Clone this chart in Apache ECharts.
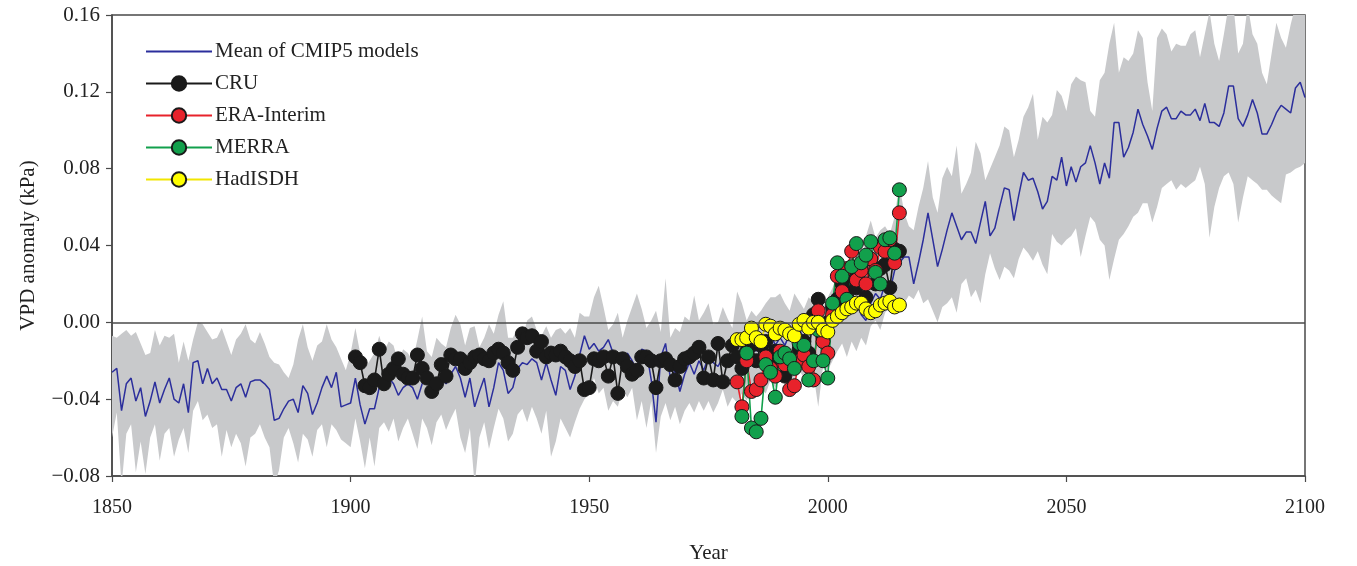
<!DOCTYPE html>
<html><head><meta charset="utf-8">
<script src="https://cdn.jsdelivr.net/npm/echarts@6/dist/echarts.min.js"></script>
<style>html,body{margin:0;padding:0;background:#fff}#c{width:1357px;height:566px}</style>
</head><body><div id="c"></div>
<script>
const startYear = 1850;
const cmipMean = [
-0.026,-0.024,-0.046,-0.032,-0.029,-0.041,-0.034,-0.049,-0.041,-0.031,
-0.042,-0.035,-0.029,-0.040,-0.042,-0.032,-0.047,-0.021,-0.020,-0.032,
-0.024,-0.032,-0.029,-0.035,-0.035,-0.041,-0.034,-0.032,-0.039,-0.031,
-0.030,-0.030,-0.032,-0.035,-0.051,-0.050,-0.045,-0.041,-0.040,-0.047,
-0.033,-0.037,-0.048,-0.042,-0.034,-0.028,-0.034,-0.026,-0.044,-0.043,
-0.042,
-0.029,-0.043,-0.053,-0.045,-0.045,-0.034,-0.030,-0.029,-0.032,-0.038,
-0.034,-0.032,-0.034,-0.040,-0.032,-0.029,-0.033,-0.030,-0.029,-0.032,
-0.027,-0.023,-0.029,-0.039,-0.029,-0.044,-0.036,-0.029,-0.044,-0.034,
-0.021,-0.025,-0.037,-0.034,-0.024,-0.021,-0.022,-0.019,-0.021,-0.030,
-0.021,-0.030,-0.038,-0.023,-0.025,-0.035,-0.028,-0.017,-0.007,-0.014,
-0.011,-0.015,-0.013,-0.009,-0.016,-0.017,-0.020,-0.016,-0.020,-0.025,
-0.014,-0.015,-0.030,-0.052,-0.018,-0.011,-0.029,-0.025,-0.036,-0.027,
-0.021,-0.027,-0.020,-0.025,-0.018,-0.021,-0.023,-0.018,-0.020,-0.018,
-0.021,-0.016,-0.019,-0.012,-0.015,-0.010,-0.013,-0.006,-0.012,-0.008,
-0.012,-0.006,-0.009,-0.004,-0.008,-0.003,-0.006,0.000,-0.004,0.003,
0.006,0.004,0.012,0.008,0.014,0.010,0.004,0.001,0.010,0.015,
0.012,0.020,0.016,0.027,0.031,0.034,0.034,0.020,0.031,0.043,
0.057,0.043,0.029,0.038,0.048,0.057,0.050,0.043,0.047,0.047,
0.041,0.052,0.063,0.045,0.049,0.060,0.070,0.069,0.053,0.066,
0.078,0.074,0.075,0.068,0.059,0.063,0.076,0.074,0.086,0.071,
0.081,0.073,0.081,0.083,0.092,0.083,0.072,0.083,0.075,0.104,
0.104,0.086,0.091,0.099,0.111,0.103,0.097,0.090,0.101,0.110,
0.112,0.106,0.106,0.110,0.108,0.108,0.111,0.105,0.114,0.104,
0.104,0.102,0.109,0.123,0.123,0.106,0.102,0.108,0.116,0.109,
0.098,0.098,0.103,0.109,0.113,0.111,0.109,0.122,0.125,0.117
];
const bandUpper = [
-0.007,-0.008,-0.006,-0.004,-0.007,-0.005,-0.011,-0.017,-0.016,-0.004,
-0.012,-0.007,-0.008,-0.006,-0.021,-0.010,-0.020,-0.009,0.000,-0.001,
-0.005,-0.009,-0.008,-0.003,-0.010,-0.017,-0.009,-0.006,-0.001,-0.009,
-0.011,-0.005,-0.011,-0.018,-0.021,-0.022,-0.026,-0.029,-0.022,-0.009,
-0.001,-0.013,-0.020,-0.012,-0.010,-0.001,-0.009,-0.013,-0.019,-0.025,
-0.016,
-0.003,-0.016,-0.024,-0.020,-0.016,-0.007,-0.015,-0.010,-0.012,-0.021,
-0.014,-0.016,-0.020,-0.009,0.003,-0.015,-0.018,-0.008,-0.011,-0.013,
-0.003,0.004,-0.001,-0.012,-0.003,-0.002,-0.013,-0.008,-0.001,-0.006,
0.004,0.011,-0.008,-0.008,-0.003,-0.008,0.001,0.003,-0.004,-0.007,
-0.002,-0.008,-0.004,-0.003,-0.006,-0.003,-0.008,0.005,0.003,0.003,
0.013,0.019,0.008,-0.004,-0.001,0.005,-0.008,0.001,0.008,0.015,
0.007,-0.003,0.001,0.006,-0.005,0.023,-0.008,-0.003,-0.005,0.003,
0.001,0.014,0.001,0.005,0.010,-0.001,0.000,0.008,0.002,-0.003,
0.016,0.010,0.001,0.006,0.003,0.006,0.010,0.013,0.013,0.015,
0.010,0.006,0.015,0.011,0.007,0.013,0.010,0.013,0.008,0.013,
0.018,0.025,0.020,0.030,0.028,0.035,0.030,0.045,0.053,0.044,
0.048,0.050,0.046,0.055,0.072,0.057,0.050,0.048,0.060,0.070,
0.084,0.065,0.057,0.075,0.081,0.076,0.092,0.067,0.072,0.078,
0.094,0.088,0.074,0.080,0.086,0.092,0.102,0.100,0.086,0.095,
0.107,0.112,0.119,0.095,0.107,0.104,0.108,0.121,0.118,0.110,
0.124,0.128,0.126,0.125,0.110,0.107,0.126,0.130,0.145,0.156,
0.130,0.138,0.136,0.140,0.152,0.148,0.125,0.110,0.148,0.153,
0.150,0.141,0.145,0.144,0.144,0.150,0.152,0.138,0.150,0.162,
0.145,0.136,0.150,0.165,0.165,0.140,0.145,0.165,0.150,0.145,
0.130,0.124,0.140,0.156,0.148,0.143,0.155,0.165,0.165,0.165
];
const bandLower = [
-0.060,-0.047,-0.085,-0.058,-0.053,-0.078,-0.062,-0.079,-0.060,-0.053,
-0.072,-0.058,-0.055,-0.070,-0.061,-0.055,-0.068,-0.046,-0.041,-0.051,
-0.048,-0.055,-0.053,-0.070,-0.056,-0.065,-0.058,-0.063,-0.075,-0.060,
-0.058,-0.053,-0.060,-0.065,-0.085,-0.077,-0.060,-0.055,-0.063,-0.073,
-0.058,-0.061,-0.070,-0.056,-0.053,-0.065,-0.053,-0.056,-0.061,-0.063,
-0.065,
-0.050,-0.062,-0.076,-0.060,-0.075,-0.055,-0.052,-0.057,-0.050,-0.062,
-0.055,-0.050,-0.058,-0.066,-0.050,-0.055,-0.064,-0.052,-0.048,-0.056,
-0.050,-0.045,-0.060,-0.068,-0.055,-0.085,-0.060,-0.052,-0.066,-0.055,
-0.045,-0.050,-0.062,-0.058,-0.048,-0.045,-0.052,-0.044,-0.050,-0.058,
-0.046,-0.070,-0.062,-0.050,-0.055,-0.060,-0.052,-0.045,-0.040,-0.037,
-0.029,-0.037,-0.034,-0.046,-0.041,-0.044,-0.035,-0.039,-0.034,-0.051,
-0.041,-0.055,-0.041,-0.068,-0.049,-0.042,-0.051,-0.044,-0.053,-0.046,
-0.042,-0.047,-0.041,-0.046,-0.041,-0.047,-0.042,-0.035,-0.044,-0.039,
-0.042,-0.037,-0.041,-0.035,-0.039,-0.034,-0.037,-0.030,-0.034,-0.029,
-0.032,-0.027,-0.030,-0.025,-0.029,-0.023,-0.027,-0.044,-0.023,-0.025,
-0.020,-0.015,-0.011,-0.018,-0.010,-0.015,-0.008,-0.012,-0.002,0.001,
-0.004,0.005,0.008,0.004,0.012,0.010,0.014,0.012,0.017,0.010,
0.012,0.006,0.000,0.008,0.010,0.013,0.005,0.020,0.023,0.013,
0.017,0.010,0.025,0.036,0.028,0.022,0.029,0.027,0.023,0.033,
0.039,0.036,0.032,0.037,0.030,0.025,0.046,0.042,0.040,0.043,
0.045,0.049,0.034,0.045,0.055,0.052,0.043,0.040,0.022,0.033,
0.043,0.046,0.050,0.055,0.057,0.062,0.062,0.052,0.060,0.070,
0.072,0.074,0.069,0.072,0.070,0.072,0.074,0.081,0.072,0.044,
0.060,0.070,0.076,0.078,0.072,0.052,0.065,0.076,0.074,0.072,
0.069,0.069,0.066,0.064,0.062,0.077,0.078,0.080,0.081,0.083
];
const cruStart = 1901;
const cru = [
-0.018,-0.021,-0.033,-0.034,-0.030,-0.014,-0.032,-0.027,-0.024,-0.019,
-0.027,-0.029,-0.029,-0.017,-0.024,-0.029,-0.036,-0.032,-0.022,-0.028,
-0.017,-0.019,-0.019,-0.024,-0.021,-0.018,-0.017,-0.019,-0.020,-0.016,
-0.014,-0.016,-0.021,-0.025,-0.013,-0.006,-0.008,-0.007,-0.015,-0.010,
-0.018,-0.016,-0.017,-0.015,-0.018,-0.020,-0.023,-0.020,-0.035,-0.034,
-0.019,-0.020,-0.018,-0.028,-0.018,-0.037,-0.019,-0.023,-0.027,-0.025,
-0.018,-0.018,-0.020,-0.034,-0.020,-0.019,-0.022,-0.030,-0.023,-0.019,
-0.018,-0.016,-0.013,-0.029,-0.018,-0.030,-0.011,-0.031,-0.020,-0.012,
-0.018,-0.024,-0.015,-0.012,-0.020,-0.012,-0.010,-0.020,-0.015,-0.018,
-0.028,-0.020,-0.022,-0.014,-0.010,-0.016,0.004,0.012,-0.008,0.000,
0.008,0.012,0.020,0.015,0.024,0.018,0.030,0.013,0.033,0.020,
0.028,0.030,0.018,0.038,0.037
];
const eraStart = 1981;
const era = [
-0.031,-0.044,-0.020,-0.036,-0.035,-0.030,-0.018,-0.024,-0.028,-0.015,
-0.022,-0.035,-0.033,-0.020,-0.017,-0.023,-0.030,0.006,-0.010,-0.016,
0.004,0.024,0.016,0.028,0.037,0.022,0.027,0.020,0.033,0.027,
0.039,0.037,0.043,0.031,0.057
];
const merraStart = 1982;
const merra = [
-0.049,-0.016,-0.055,-0.057,-0.050,-0.022,-0.026,-0.039,-0.018,-0.016,
-0.019,-0.024,-0.011,-0.012,-0.030,-0.020,-0.004,-0.020,-0.029,0.010,
0.031,0.024,0.012,0.029,0.041,0.031,0.035,0.042,0.026,0.020,
0.043,0.044,0.036,0.069
];
const hadStart = 1981;
const hadisdh = [
-0.009,-0.009,-0.008,-0.003,-0.008,-0.010,-0.001,-0.002,-0.006,-0.003,
-0.004,-0.006,-0.007,-0.001,0.001,-0.003,0.000,0.000,-0.004,-0.005,
0.001,0.003,0.005,0.007,0.008,0.010,0.010,0.007,0.005,0.006,
0.009,0.010,0.011,0.008,0.009
];
const xRange = [1850, 2100], xStep = 50;
const yRange = [-0.08, 0.16], yStep = 0.04;
const names = ['Mean of CMIP5 models','CRU','ERA-Interim','MERRA','HadISDH'];

function pairs(start, arr){ return arr.map((v,i)=>[start+i, v]); }
const serif = '"Liberation Serif","Times New Roman",serif';
const bandData = bandUpper.map((u,i)=>[startYear+i, bandLower[i], u]);

function obs(name, start, arr, color, lineColor){
  return {
    name, type:'line', data:pairs(start,arr), symbol:'circle', symbolSize:14,
    showAllSymbol:true, z:3,
    itemStyle:{color, borderColor:'#1a1a1a', borderWidth:1},
    lineStyle:{color:lineColor||color, width:1.6},
    emphasis:{disabled:true}
  };
}

const chart = echarts.init(document.getElementById('c'), null, {renderer:'canvas'});
chart.setOption({
  animation:false,
  backgroundColor:'#fff',
  grid:{left:112, right:52, top:15, bottom:90, show:true, borderColor:'#4a4a4a', borderWidth:1.5,
        outerBoundsMode:'none', containLabel:false},
  legend:{
    data:names, orient:'vertical', left:140, top:36, itemWidth:66, itemHeight:18, itemGap:11,
    textStyle:{fontFamily:serif, fontSize:21, color:'#222', padding:[0,0,0,-2]}
  },
  xAxis:{
    type:'value', min:xRange[0], max:xRange[1], interval:xStep,
    name:'Year', nameLocation:'middle', nameGap:67,
    nameTextStyle:{fontFamily:serif, fontSize:21, color:'#222'},
    axisLine:{show:true, onZero:false, lineStyle:{color:'#4a4a4a', width:1.5}},
    axisTick:{show:true, length:6, lineStyle:{color:'#4a4a4a', width:1.2}},
    axisLabel:{fontFamily:serif, fontSize:20, color:'#222', margin:22, formatter:v=>String(v)},
    splitLine:{show:false}
  },
  yAxis:{
    type:'value', min:yRange[0], max:yRange[1], interval:yStep,
    name:'VPD anomaly (kPa)', nameLocation:'middle', nameGap:73,
    nameTextStyle:{fontFamily:serif, fontSize:21, color:'#222'},
    axisLine:{show:true, onZero:false, lineStyle:{color:'#4a4a4a', width:1.5}},
    axisTick:{show:true, length:6, lineStyle:{color:'#4a4a4a', width:1.2}},
    axisLabel:{fontFamily:serif, fontSize:21, color:'#222', margin:12,
      formatter:v=>{ if(Math.abs(v)<1e-9) return '0.00'; return (v<0?'\u2212':'')+Math.abs(v).toFixed(2);} },
    splitLine:{show:false}
  },
  series:[
    {name:'band', type:'custom', data:bandData, clip:true, silent:true, z:1,
     encode:{x:0, y:[1,2]},
     renderItem:(params, api)=>{
       if (params.dataIndex !== 0) return null;
       const pts = [];
       for (let i=0;i<bandData.length;i++) pts.push(api.coord([bandData[i][0], bandData[i][2]]));
       for (let i=bandData.length-1;i>=0;i--) pts.push(api.coord([bandData[i][0], bandData[i][1]]));
       return {type:'polygon', shape:{points:pts}, style:{fill:'#c8c9cb', stroke:null}};
     }},
    {name:names[0], type:'line', data:pairs(startYear,cmipMean), symbol:'none',
     lineStyle:{color:'#2b2e9c', width:1.5}, itemStyle:{color:'#2b2e9c', opacity:0}, z:2,
     emphasis:{disabled:true},
     markLine:{silent:true, symbol:'none', label:{show:false},
       lineStyle:{color:'#4a4a4a', width:1.5, type:'solid'}, data:[{yAxis:0}]}},
    obs(names[1], cruStart, cru, '#1a1a1a'),
    obs(names[2], eraStart, era, '#e8222b'),
    obs(names[3], merraStart, merra, '#12a04c'),
    obs(names[4], hadStart, hadisdh, '#ffff00', '#f2e600')
  ]
});
</script></body></html>
